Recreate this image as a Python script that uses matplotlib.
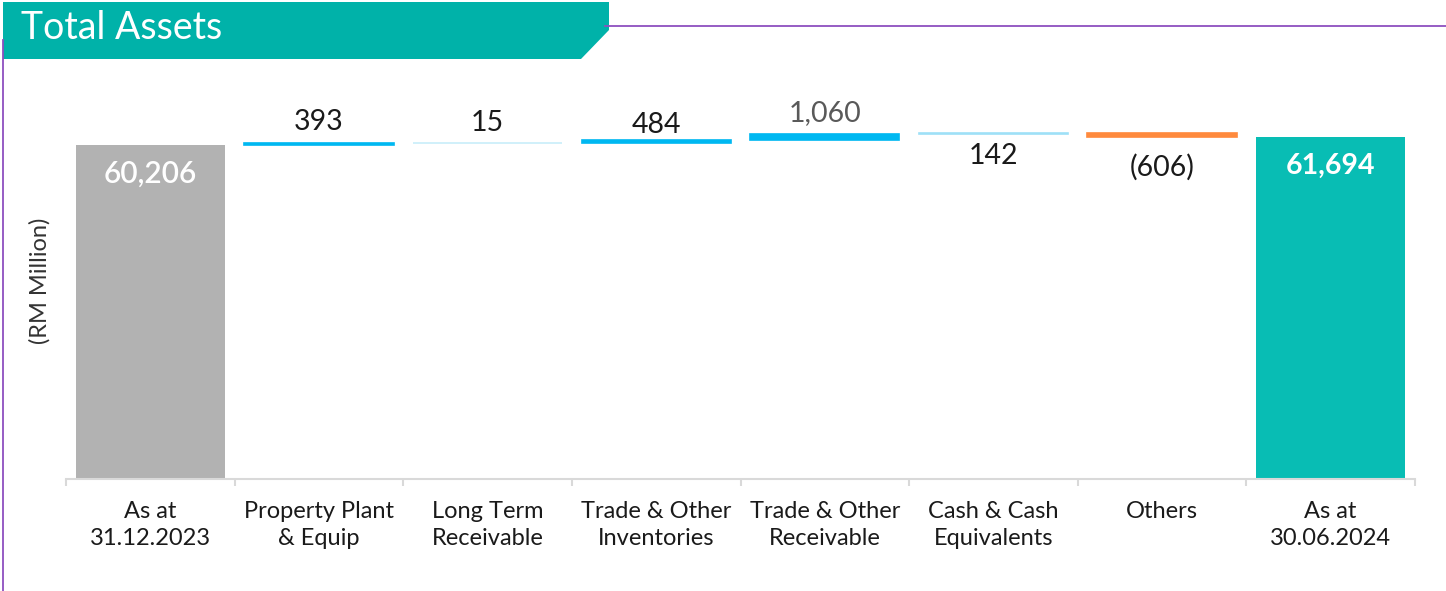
import numpy as np
import matplotlib
matplotlib.use('Agg')
import matplotlib.pyplot as plt
from matplotlib.patches import Polygon
from matplotlib.lines import Line2D

# Data (RM Million)
categories = ['As at\n31.12.2023', 'Property Plant\n& Equip', 'Long Term\nReceivable',
              'Trade & Other\nInventories', 'Trade & Other\nReceivable',
              'Cash & Cash\nEquivalents', 'Others', 'As at\n30.06.2024']
opening = 60206
changes = [393, 15, 484, 1060, 142, -606]
closing = 61694

plt.rcParams['font.family'] = ['Lato', 'DejaVu Sans']

W, H = 1446, 591
fig = plt.figure(figsize=(W / 100, H / 100), dpi=100)


def fx(px):
    return px / W


def fy(py):
    return 1 - py / H


# axes: baseline at y=479px, x from 66 to 1415px
ax_top = 95
ax = fig.add_axes([fx(66), fy(479), fx(1415) - fx(66), (479 - ax_top) / H])

# scale so the opening bar reaches y=145px
px_per_unit = (479 - 145) / opening
ax.set_ylim(0, (479 - ax_top) / px_per_unit)
ax.set_xlim(-0.5, len(categories) - 0.5)

bar_w = 0.885
change_colors = ['#00B8F1', '#C8EEFA', '#00B8F1', '#00B8F1', '#9EE0F7', '#FF8A3D']

# start / end bars
ax.bar(0, opening, width=bar_w, color='#B2B2B2')
ax.bar(len(categories) - 1, closing, width=bar_w, color='#08BDB4')

# floating bars
cum = opening
tops, bottoms = [], []
for i, v in enumerate(changes):
    lo, hi = (cum, cum + v) if v >= 0 else (cum + v, cum)
    ax.bar(i + 1, hi - lo, bottom=lo, width=bar_w, color=change_colors[i],
           edgecolor=change_colors[i], linewidth=1.2)
    tops.append(hi)
    bottoms.append(lo)
    cum += v


def fmt(v):
    s = f'{abs(v):,}'
    return f'({s})' if v < 0 else s


# value labels: above for the first four, below for the last two
label_off = [15, 14, 11, 15, -16, -22]
label_col = ['#1A1A1A', '#1A1A1A', '#1A1A1A', '#595959', '#1A1A1A', '#1A1A1A']
for i, v in enumerate(changes):
    off = label_off[i]
    y = tops[i] if off > 0 else bottoms[i]
    ax.annotate(fmt(v), (i + 1, y), xytext=(0, off), textcoords='offset points',
                ha='center', va='center', fontsize=20.5, color=label_col[i])

ax.annotate(fmt(opening), (0, opening), xytext=(0, -21), textcoords='offset points',
            ha='center', va='center', fontsize=21.5, color='white', fontweight='semibold')
ax.annotate(fmt(closing), (len(categories) - 1, closing), xytext=(0, -21),
            textcoords='offset points', ha='center', va='center', fontsize=20.5,
            color='white', fontweight='bold')

# axis styling
for s in ['top', 'right', 'left']:
    ax.spines[s].set_visible(False)
ax.spines['bottom'].set_color('#D9D9D9')
ax.spines['bottom'].set_linewidth(1.5)
ax.set_yticks([])
ax.set_xticks(np.arange(len(categories)))
ax.set_xticklabels(categories, fontsize=17, color='#1A1A1A', linespacing=1.32)
ax.tick_params(axis='x', which='major', length=0, pad=16)
ax.set_xticks(np.arange(len(categories) + 1) - 0.5, minor=True)
ax.tick_params(axis='x', which='minor', length=5, width=1.5, color='#D9D9D9')

fig.text(fx(40), fy(281), '(RM Million)', rotation=90, ha='center', va='center',
         fontsize=17, color='#333333')

# title banner and frame lines
purple = '#8E4FBF'
fig.add_artist(Line2D([fx(3), fx(3)], [fy(40), fy(591)], color=purple, lw=1.3,
                      transform=fig.transFigure))
fig.add_artist(Line2D([fx(605), fx(1446)], [fy(26), fy(26)], color=purple, lw=1.3,
                      transform=fig.transFigure))
banner = Polygon([(fx(3), fy(2)), (fx(609), fy(2)), (fx(609), fy(30)),
                  (fx(581), fy(59)), (fx(3), fy(59))], closed=True,
                 facecolor='#00B2A9', edgecolor='none', transform=fig.transFigure)
fig.add_artist(banner)
fig.text(fx(21), fy(28), 'Total Assets', ha='left', va='center', fontsize=27,
         color='white', fontweight='normal')

fig.savefig('out.png', dpi=100)
